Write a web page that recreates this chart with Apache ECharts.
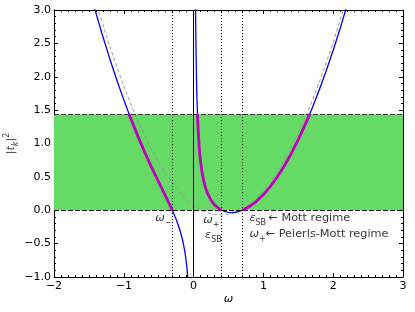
<!DOCTYPE html>
<html><head><meta charset="utf-8">
<script src="https://cdn.jsdelivr.net/npm/echarts@6/dist/echarts.min.js"></script>
<style>html,body{margin:0;padding:0;background:#fff}#c{width:415px;height:312px}</style>
</head><body><div id="c"></div>
<script>
// ---- data ----
const xRange = [-2, 3];
const yRange = [-1, 3];
const bandTop = 1.44;          // upper edge of the green band
const bandBottom = 0;
const omegaMinus = -0.305;     // dotted line ω−
const omegaPlus = 0.40;        // dotted line ω+ / ε_SB
const epsSB = 0.70;            // dotted line ε_SB / ω+
const poleAt = 0;              // solid vertical line

// blue curve, left branch [ω, |t_k|^2]
const blueLeft = [[-1.42,3.030],[-1.3,2.602],[-1.2,2.267],[-1.1,1.951],[-1.0,1.654],[-0.9,1.375],[-0.8,1.114],[-0.7,0.869],[-0.6,0.639],[-0.5,0.421],[-0.4,0.209],[-0.35,0.101],[-0.3,-0.012],[-0.25,-0.136],[-0.2,-0.284],[-0.16,-0.437],[-0.13,-0.592],[-0.11,-0.732],[-0.1,-0.820],[-0.09,-0.925],[-0.08,-1.053]];
// blue curve, right branch
const blueRight = [[0.027,3.087],[0.028,2.973],[0.03,2.768],[0.035,2.358],[0.04,2.049],[0.045,1.790],[0.05,1.615],[0.06,1.324],[0.07,1.114],[0.08,0.955],[0.09,0.832],[0.1,0.729],[0.12,0.575],[0.15,0.417],[0.175,0.324],[0.2,0.253],[0.25,0.150],[0.3,0.081],[0.35,0.033],[0.4,0.000],[0.45,-0.021],[0.5,-0.032],[0.55,-0.035],[0.6,-0.030],[0.65,-0.018],[0.7,0.000],[0.8,0.055],[0.9,0.134],[1.0,0.235],[1.1,0.358],[1.2,0.502],[1.3,0.667],[1.4,0.853],[1.5,1.059],[1.6,1.286],[1.7,1.533],[1.8,1.801],[1.9,2.089],[2.0,2.397],[2.1,2.726],[2.2,3.074]];
// magenta (thick) pieces inside the band
const magentaLeft = [[-0.924,1.44],[-0.9,1.375],[-0.8,1.114],[-0.7,0.869],[-0.6,0.639],[-0.5,0.421],[-0.4,0.209],[-0.35,0.101],[-0.305,0.0]];
const magentaMid = [[0.0556,1.44],[0.06,1.324],[0.07,1.114],[0.08,0.955],[0.09,0.832],[0.1,0.729],[0.12,0.575],[0.15,0.417],[0.175,0.324],[0.2,0.253],[0.25,0.150],[0.3,0.081],[0.35,0.033],[0.4,0.0]];
const magentaRight = [[0.7,0.0],[0.8,0.055],[0.9,0.134],[1.0,0.235],[1.1,0.358],[1.2,0.502],[1.3,0.667],[1.4,0.853],[1.5,1.059],[1.6,1.286],[1.663,1.44]];
// grey dashed parabola
const greyDashed = [[-1.45,3.316],[-1.3,2.786],[-1.1,2.150],[-0.9,1.594],[-0.7,1.118],[-0.5,0.722],[-0.3,0.406],[-0.1,0.170],[0.1,0.014],[0.3,-0.062],[0.39,-0.070],[0.5,-0.058],[0.7,0.026],[0.9,0.190],[1.1,0.434],[1.3,0.758],[1.5,1.162],[1.7,1.646],[1.9,2.210],[2.1,2.854],[2.2,3.206]];
// annotation anchors [ω, y]
const annotOmegaMinus = [-0.55, -0.14];
const annotOmegaPlus = [0.14, -0.17];
const annotEpsLow = [0.165, -0.40];
const annotMott = [0.80, -0.145];
const annotPeierls = [0.80, -0.385];

// ---- chart ----
const FONT = 'DejaVu Sans';
const minus = s => String(s).replace('-', '\u2212');
const chart = echarts.init(document.getElementById('c'), null, {renderer: 'canvas'});
const rich = {
  i: {fontFamily: FONT, fontStyle: 'italic', fontSize: 11.3, color: '#000', verticalAlign: 'bottom', padding: [0,0,3,0]},
  n: {fontFamily: FONT, fontSize: 11.3, color: '#000', verticalAlign: 'bottom', padding: [0,0,3,0]},
  sub: {fontFamily: FONT, fontSize: 8, color: '#000', verticalAlign: 'bottom'}
};
const axisCommon = {
  type: 'value',
  axisLine: {show: true, onZero: false, lineStyle: {color: '#000', width: 1}},
  axisTick: {show: true, inside: true, length: 4, lineStyle: {color: '#000', width: 1}},
  minorTick: {show: true, length: 2, lineStyle: {color: '#000', width: 1}},
  splitLine: {show: false},
  minorSplitLine: {show: false}
};
const lineBase = {type: 'line', showSymbol: false, symbol: 'none', animation: false, silent: true, clip: true};
const option = {
  animation: false,
  grid: {left: 54, right: 12, top: 10, bottom: 35, containLabel: false, outerBoundsMode: 'none'},
  xAxis: [
    Object.assign({}, axisCommon, {
      min: xRange[0], max: xRange[1], interval: 1, position: 'bottom',
      minorTick: Object.assign({}, axisCommon.minorTick, {splitNumber: 10}),
      axisLabel: {fontFamily: FONT, fontSize: 11, color: '#000', margin: 4, formatter: v => minus(v)},
      name: '{i|ω}', nameLocation: 'middle', nameGap: 17, nameMoveOverlap: false,
      nameTextStyle: {rich: {i: {fontFamily: FONT, fontStyle: 'italic', fontSize: 11.3, color: '#000'}}}
    }),
    Object.assign({}, axisCommon, {
      min: xRange[0], max: xRange[1], interval: 1, position: 'top',
      minorTick: Object.assign({}, axisCommon.minorTick, {splitNumber: 10}),
      axisLabel: {show: false}
    })
  ],
  yAxis: [
    Object.assign({}, axisCommon, {
      min: yRange[0], max: yRange[1], interval: 0.5, position: 'left',
      minorTick: Object.assign({}, axisCommon.minorTick, {splitNumber: 5}),
      axisLabel: {fontFamily: FONT, fontSize: 11, color: '#000', margin: 3, formatter: v => minus(v.toFixed(1))},
      name: '{p||}{i|t}{sub|k}{p||}{sup|2}', nameLocation: 'middle', nameGap: 34, nameRotate: 90, nameMoveOverlap: false,
      nameTextStyle: {rich: {
        p: {fontFamily: FONT, fontSize: 11.3, color: '#444', padding: [3,0,3,0]},
        i: {fontFamily: FONT, fontStyle: 'italic', fontSize: 11.3, color: '#444', padding: [3,0,3,0]},
        sub: {fontFamily: FONT, fontStyle: 'italic', fontSize: 8, color: '#444', verticalAlign: 'bottom'},
        sup: {fontFamily: FONT, fontSize: 8, color: '#444', verticalAlign: 'top'}
      }}
    }),
    Object.assign({}, axisCommon, {
      min: yRange[0], max: yRange[1], interval: 0.5, position: 'right',
      minorTick: Object.assign({}, axisCommon.minorTick, {splitNumber: 5}),
      axisLabel: {show: false}
    })
  ],
  series: [
    Object.assign({}, lineBase, {
      name: 'band', data: [], z: 1,
      markArea: {silent: true, itemStyle: {color: '#65da65'}, data: [[{yAxis: bandBottom}, {yAxis: bandTop}]]},
      markLine: {silent: true, symbol: 'none', label: {show: false}, animation: false,
        data: [
          {yAxis: bandBottom, lineStyle: {color: '#000', width: 1, type: [5, 2]}},
          {yAxis: bandTop, lineStyle: {color: '#333', width: 1, type: [5, 2]}},
          {xAxis: omegaMinus, lineStyle: {color: '#000', width: 1, type: [1, 2]}},
          {xAxis: omegaPlus, lineStyle: {color: '#000', width: 1, type: [1, 2]}},
          {xAxis: epsSB, lineStyle: {color: '#000', width: 1, type: [1, 2]}},
          {xAxis: poleAt, lineStyle: {color: '#000', width: 1, type: 'solid'}}
        ]}
    }),
    Object.assign({}, lineBase, {name: 'grey', data: greyDashed, smooth: true, z: 3,
      lineStyle: {color: '#999', width: 1, type: [3.5, 2.5]}}),
    Object.assign({}, lineBase, {name: 'blueL', data: blueLeft, z: 4, lineStyle: {color: '#0000ff', width: 1.3}}),
    Object.assign({}, lineBase, {name: 'blueR', data: blueRight, z: 4, lineStyle: {color: '#0000ff', width: 1.3}}),
    Object.assign({}, lineBase, {name: 'magL', data: magentaLeft, z: 5, lineStyle: {color: '#bf00bf', width: 2.8}}),
    Object.assign({}, lineBase, {name: 'magM', data: magentaMid, z: 5, lineStyle: {color: '#bf00bf', width: 2.8}}),
    Object.assign({}, lineBase, {name: 'magR', data: magentaRight, z: 5, lineStyle: {color: '#bf00bf', width: 2.8}}),
    {
      type: 'scatter', name: 'annot', symbolSize: 0, silent: true, animation: false, z: 6,
      label: {show: true, position: [0, 0], align: 'left', verticalAlign: 'middle', rich: rich},
      data: [
        {value: annotOmegaMinus, label: {formatter: '{i|ω}{sub|\u2212}'}},
        {value: annotOmegaPlus, label: {formatter: '{i|ω}{sub|+}'}},
        {value: annotEpsLow, label: {formatter: '{i|ε}{sub|SB}'}},
        {value: annotMott, label: {formatter: '{i|ε}{sub|SB}{n|\u2009\u2190 Mott regime}'}},
        {value: annotPeierls, label: {formatter: '{i|ω}{sub|+}{n|\u2190 Peierls-Mott regime}'}}
      ]
    }
  ]
};
chart.setOption(option);
</script></body></html>
